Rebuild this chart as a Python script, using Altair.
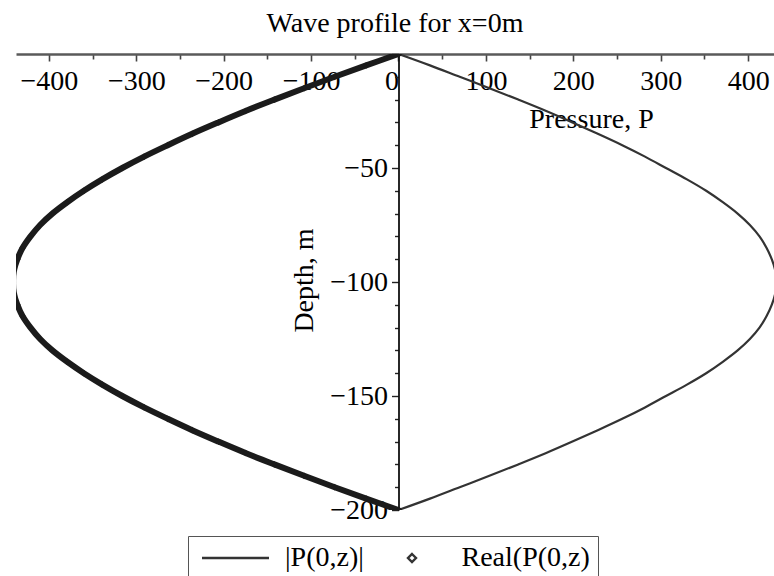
import altair as alt
import pandas as pd

# Depth (m), sampled every 5 m
DEPTH = [0, -5, -10, -15, -20, -25, -30, -35, -40, -45, -50, -55, -60, -65, -70,
         -75, -80, -85, -90, -95, -100, -105, -110, -115, -120, -125, -130, -135,
         -140, -145, -150, -155, -160, -165, -170, -175, -180, -185, -190, -195, -200]

# |P(0,z)|
ABS_P = [0, 36, 70, 104, 137, 169, 199, 228, 256, 282, 306, 330, 352, 371, 388,
         402, 413, 421, 427, 431, 432, 431, 427, 421, 413, 402, 388, 371, 352,
         330, 306, 282, 256, 228, 199, 169, 137, 104, 70, 36, 0]

# Real(P(0,z))
REAL_P = [0, -37, -73, -108, -142, -175, -206, -236, -264, -291, -316, -339, -360,
          -379, -396, -410, -421, -430, -436, -440, -441, -440, -436, -430, -421,
          -410, -396, -379, -360, -339, -316, -291, -264, -236, -206, -175, -142,
          -108, -73, -37, 0]

SERIES = ["|P(0,z)|", "Real(P(0,z)"]
X_TICKS = [-400, -350, -300, -250, -200, -150, -100, -50, 0, 50, 100, 150, 200, 250, 300, 350, 400]
Y_TICKS = [-200, -190, -180, -170, -160, -150, -140, -130, -120, -110, -100, -90, -80,
           -70, -60, -50, -40, -30, -20, -10, 0]

df_abs = pd.DataFrame({"z": DEPTH, "P": ABS_P, "series": SERIES[0]})
df_real = pd.DataFrame({"z": DEPTH, "P": REAL_P, "series": SERIES[1]})

SERIF = "Liberation Serif"
LINE_PATH = "M-3.35,0H3.35"
DIAMOND_PATH = "M0,-0.4L0.4,0L0,0.4L-0.4,0Z"

xscale = alt.Scale(domain=[-437.6, 429.6], nice=False, zero=False)
yscale = alt.Scale(domain=[-200, 0], nice=False, zero=False)

x_axis = alt.Axis(
    orient="bottom", offset=-456, values=X_TICKS,
    labelExpr="datum.value % 100 == 0 ? datum.label : ''",
    labelAlign={"condition": {"test": "datum.value == 0", "value": "right"}, "value": "center"},
    tickSize={"condition": {"test": "datum.value % 100 == 0", "value": 7}, "value": 5},
    labelPadding=6, labelOverlap=False, labelFlush=False,
    domainColor="#5a5a5a", domainWidth=2.6, tickColor="#444", tickWidth=1.6,
    title="Pressure, P", titleX=575, titleY=73, titleBaseline="alphabetic",
    titleAlign="center",
)
y_axis = alt.Axis(
    orient="left", offset=-382.5, values=Y_TICKS,
    labelExpr="(datum.value % 50 == 0 && datum.value != 0) ? datum.label : ''",
    tickSize={"condition": {"test": "datum.value % 50 == 0", "value": 7}, "value": 4},
    labelPadding=4, labelOverlap=False, labelFlush=False,
    domainColor="#111", domainWidth=1.8, tickColor="#222", tickWidth=1.4,
    title="Depth, m", titleX=-86.5, titleY=226, titleAngle=-90,
    titleBaseline="alphabetic", titleAlign="center",
)

X_ENC = alt.X("P:Q", scale=xscale, axis=x_axis)
Y_ENC = alt.Y("z:Q", scale=yscale, axis=y_axis)
ORDER = alt.Order("z:Q", sort="descending")

abs_line = alt.Chart(df_abs).mark_line(
    color="#333333", strokeWidth=2.2, interpolate="catmull-rom", clip=True
).encode(x=X_ENC, y=Y_ENC, order=ORDER)

real_line = alt.Chart(df_real).mark_line(
    color="#1b1b1b", strokeWidth=6, interpolate="catmull-rom",
    strokeCap="round", clip=True
).encode(x=X_ENC, y=Y_ENC, order=ORDER)

real_pts = alt.Chart(df_real).mark_point(
    filled=False, color="#1b1b1b", size=156, strokeWidth=1.2, opacity=1, clip=True
).encode(
    x=X_ENC, y=Y_ENC,
    shape=alt.Shape(
        "series:N",
        scale=alt.Scale(domain=SERIES, range=[LINE_PATH, DIAMOND_PATH]),
        legend=alt.Legend(
            orient="none", legendX=172, legendY=482, direction="horizontal",
            title=None, symbolSize=400, symbolOffset=25.5, labelOffset=35.5,
            columnPadding=8.5, padding=8, symbolStrokeWidth=2.4,
            symbolStrokeColor="#333333", strokeColor="#555555", fillColor="white",
            labelFont=SERIF, labelFontSize=28, labelColor="black",
        ),
    ),
)

chart = alt.layer(abs_line, real_line, real_pts).properties(
    width=758, height=456,
    title=alt.TitleParams(
        "Wave profile for x=0m", font=SERIF, fontSize=28, fontWeight="normal",
        color="black", anchor="middle", offset=2, frame="group",
    ),
    padding={"left": 16, "top": 54, "right": 0, "bottom": 66},
    autosize="none",
).configure_view(stroke=None).configure_axis(
    grid=False, labelFont=SERIF, labelFontSize=28, labelColor="black",
    titleFont=SERIF, titleFontSize=28, titleColor="black", titleFontWeight="normal",
)

chart.save("out.html", embed_options={"renderer": "svg", "actions": False})
